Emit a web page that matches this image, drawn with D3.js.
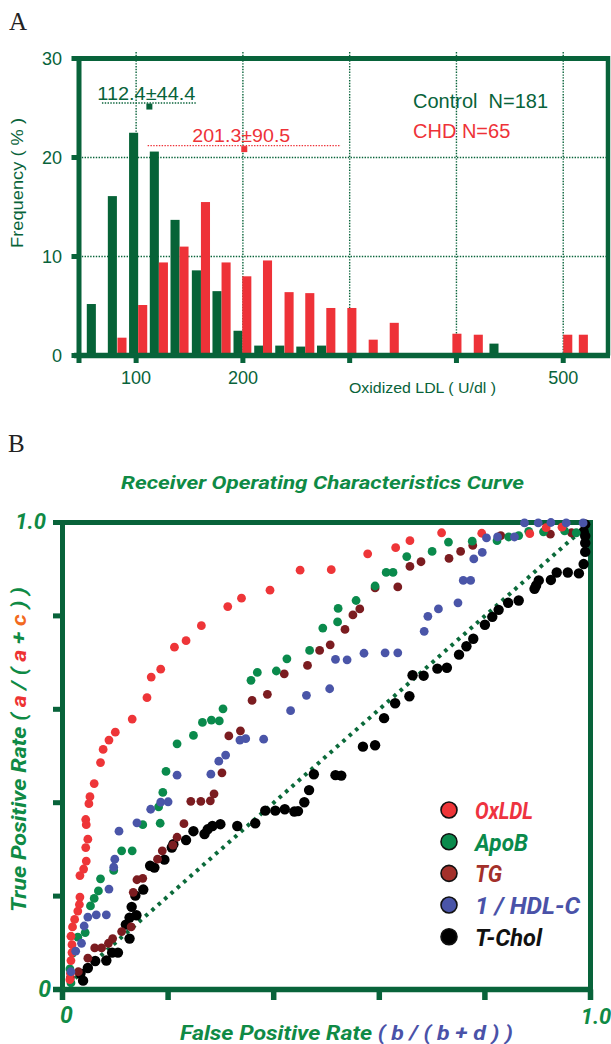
<!DOCTYPE html>
<html><head><meta charset="utf-8">
<script src="https://cdn.jsdelivr.net/npm/d3@7"></script>
<style>body{margin:0;background:#fff}svg{display:block}</style>
</head><body><svg id="c" width="611" height="1044"></svg>
<script>
// ---------- Panel A data (Oxidized LDL histogram) ----------
const ctrlBinStart = [53.8, 73.5, 93.4, 112.8, 132.2, 152.2, 171.5, 191.2, 210.6, 230.3, 250.0, 269.4, 430.9];
const ctrlFreq     = [5.2, 16.1, 22.5, 20.6, 13.7, 8.6, 6.5, 2.5, 1.0, 1.0, 0.9, 1.0, 1.2];
const chdBinStart  = [82.5, 101.9, 121.3, 140.6, 160.7, 180.0, 199.4, 218.8, 239.0, 258.4, 278.1, 297.8, 317.8, 337.5, 396.2, 416.2, 500.0, 514.6];
const chdFreq      = [1.8, 5.1, 9.4, 11.0, 15.5, 9.4, 8.0, 9.6, 6.4, 6.3, 4.8, 4.8, 1.6, 3.3, 2.2, 2.1, 2.1, 2.1];
const yTicksA = [0, 10, 20, 30];
const yGridA = [10, 20];
const xGridA = [100, 200, 300, 400, 500];
const xLabelsA = [100, 200, 500];
const ctrlStat = {mean: 112.4, sd: 44.4, label: "112.4±44.4", level: 25.5};
const chdStat  = {mean: 201.3, sd: 90.5, label: "201.3±90.5", level: 21.2};
const legendA = ["Control  N=181", "CHD N=65"];

// ---------- Panel B data (ROC curves: [FPR, TPR]) ----------
const oxldl = [[0.014,0.021],[0.015,0.034],[0.016,0.062],[0.018,0.079],[0.018,0.096],[0.016,0.114],[0.019,0.134],[0.023,0.150],[0.029,0.168],[0.032,0.182],[0.033,0.198],[0.033,0.244],[0.040,0.258],[0.045,0.275],[0.044,0.304],[0.048,0.322],[0.045,0.353],[0.044,0.364],[0.050,0.398],[0.052,0.413],[0.060,0.441],[0.072,0.486],[0.077,0.514],[0.088,0.534],[0.100,0.551],[0.132,0.579],[0.160,0.625],[0.168,0.669],[0.186,0.686],[0.212,0.733],[0.234,0.747],[0.263,0.779],[0.313,0.820],[0.339,0.838],[0.393,0.855],[0.450,0.898],[0.509,0.899],[0.578,0.933],[0.631,0.946],[0.658,0.961],[0.718,0.978],[0.794,0.977],[0.885,0.976],[0.916,0.989],[0.946,0.990]];
const apob = [[0.016,0.014],[0.014,0.044],[0.019,0.078],[0.029,0.112],[0.043,0.122],[0.053,0.179],[0.060,0.195],[0.068,0.211],[0.072,0.237],[0.097,0.255],[0.112,0.297],[0.132,0.297],[0.152,0.353],[0.185,0.356],[0.182,0.391],[0.190,0.422],[0.196,0.467],[0.217,0.526],[0.248,0.544],[0.265,0.572],[0.282,0.577],[0.297,0.575],[0.304,0.601],[0.357,0.662],[0.369,0.679],[0.405,0.682],[0.425,0.708],[0.468,0.726],[0.493,0.774],[0.521,0.787],[0.522,0.816],[0.556,0.833],[0.592,0.864],[0.613,0.893],[0.626,0.893],[0.652,0.927],[0.700,0.938],[0.731,0.958],[0.776,0.960],[0.823,0.961],[0.845,0.969],[0.864,0.972],[0.883,0.981],[0.911,0.980],[0.951,0.982],[0.973,0.978]];
const tg = [[0.015,0.025],[0.030,0.038],[0.048,0.067],[0.061,0.089],[0.074,0.089],[0.087,0.099],[0.095,0.109],[0.112,0.124],[0.130,0.134],[0.134,0.208],[0.141,0.235],[0.152,0.238],[0.180,0.279],[0.189,0.297],[0.209,0.309],[0.217,0.326],[0.230,0.355],[0.243,0.403],[0.262,0.403],[0.280,0.404],[0.287,0.419],[0.302,0.464],[0.315,0.543],[0.337,0.554],[0.359,0.619],[0.388,0.632],[0.420,0.676],[0.464,0.694],[0.487,0.726],[0.507,0.738],[0.535,0.771],[0.550,0.802],[0.563,0.815],[0.592,0.860],[0.635,0.862],[0.658,0.906],[0.679,0.916],[0.732,0.923],[0.754,0.938],[0.777,0.951],[0.830,0.972],[0.924,0.975],[0.964,0.978]];
const hdl = [[0.016,0.038],[0.025,0.082],[0.036,0.099],[0.041,0.136],[0.048,0.155],[0.064,0.160],[0.083,0.160],[0.088,0.215],[0.097,0.262],[0.099,0.279],[0.107,0.339],[0.141,0.357],[0.167,0.386],[0.186,0.401],[0.200,0.402],[0.217,0.459],[0.281,0.461],[0.296,0.489],[0.309,0.502],[0.336,0.534],[0.347,0.537],[0.381,0.536],[0.432,0.597],[0.462,0.630],[0.506,0.644],[0.517,0.707],[0.539,0.706],[0.571,0.720],[0.611,0.721],[0.635,0.721],[0.685,0.767],[0.692,0.799],[0.712,0.815],[0.749,0.828],[0.759,0.876],[0.773,0.876],[0.779,0.922],[0.795,0.936],[0.803,0.967],[0.824,0.969],[0.856,0.969],[0.875,0.999],[0.901,0.999],[0.925,1.0],[0.954,0.999],[0.986,0.999]];
const tchol = [[0.039,0.019],[0.034,0.034],[0.048,0.046],[0.062,0.061],[0.083,0.062],[0.094,0.079],[0.105,0.079],[0.127,0.109],[0.120,0.139],[0.127,0.154],[0.140,0.159],[0.131,0.177],[0.138,0.201],[0.153,0.214],[0.166,0.265],[0.174,0.261],[0.193,0.278],[0.207,0.304],[0.210,0.311],[0.234,0.320],[0.248,0.339],[0.269,0.333],[0.275,0.343],[0.284,0.350],[0.299,0.354],[0.331,0.350],[0.365,0.356],[0.384,0.383],[0.403,0.383],[0.421,0.386],[0.439,0.381],[0.446,0.382],[0.458,0.401],[0.467,0.427],[0.476,0.461],[0.517,0.459],[0.528,0.458],[0.569,0.520],[0.592,0.523],[0.609,0.581],[0.630,0.613],[0.657,0.628],[0.663,0.673],[0.684,0.672],[0.710,0.687],[0.728,0.689],[0.751,0.717],[0.765,0.735],[0.778,0.751],[0.800,0.781],[0.814,0.798],[0.826,0.813],[0.844,0.828],[0.864,0.833],[0.894,0.858],[0.897,0.865],[0.902,0.876],[0.925,0.877],[0.936,0.893],[0.957,0.893],[0.978,0.891],[0.987,0.911],[0.990,0.937],[0.990,0.956],[0.990,0.971],[0.987,0.981],[0.990,0.996]];
const rocTicks = [0, 0.2, 0.4, 0.6, 0.8, 1.0];
const seriesNames = ["OxLDL", "ApoB", "TG", "1 / HDL-C", "T-Chol"];

// ---------- styles ----------
const DG = "#08633a", RED = "#ee3238";
const ROCG = "#0f8a45", BLUE = "#4a52a8";
const svg = d3.select("#c");
svg.append("rect").attr("width", 611).attr("height", 1044).attr("fill", "#fff");
const sans = "'Liberation Sans', Arial, sans-serif";
const pop = "Roboto, 'DejaVu Sans', sans-serif";

// ================= PANEL A =================
svg.append("text").attr("x", 9).attr("y", 30).text("A")
  .attr("font-family", "'Liberation Serif', 'Times New Roman', serif").attr("font-size", 25).attr("fill", "#222");

const xA = d3.scaleLinear().domain([46.5, 541]).range([79, 607]);
const yA = d3.scaleLinear().domain([0, 30]).range([355.5, 58.5]);
const gA = svg.append("g");

// gridlines
gA.selectAll(".hg").data(yGridA).join("line")
  .attr("x1", xA(46.5)).attr("x2", xA(541)).attr("y1", d => yA(d)).attr("y2", d => yA(d))
  .attr("stroke", DG).attr("stroke-width", 1.4).attr("stroke-dasharray", "1.4,1.4");
gA.selectAll(".vg").data(xGridA).join("line")
  .attr("x1", d => xA(d)).attr("x2", d => xA(d)).attr("y1", 52).attr("y2", yA(0))
  .attr("stroke", DG).attr("stroke-width", 1.4).attr("stroke-dasharray", "1.4,1.4");

// bars
const binW = 8.5;
gA.selectAll(".cb").data(ctrlBinStart.map((s, i) => ({s, v: ctrlFreq[i]}))).join("rect")
  .attr("x", d => xA(d.s)).attr("width", d => xA(d.s + binW) - xA(d.s))
  .attr("y", d => yA(d.v)).attr("height", d => yA(0) - yA(d.v)).attr("fill", "#066337");
gA.selectAll(".rb").data(chdBinStart.map((s, i) => ({s, v: chdFreq[i]}))).join("rect")
  .attr("x", d => xA(d.s)).attr("width", d => xA(d.s + binW) - xA(d.s))
  .attr("y", d => yA(d.v)).attr("height", d => yA(0) - yA(d.v)).attr("fill", RED);

// frame / axes
gA.append("line").attr("x1", 76.5).attr("x2", 610).attr("y1", yA(30)).attr("y2", yA(30)).attr("stroke", DG).attr("stroke-width", 5);
gA.append("line").attr("x1", 608).attr("x2", 608).attr("y1", yA(30) - 2.5).attr("y2", yA(0)).attr("stroke", DG).attr("stroke-width", 4.5);
gA.append("line").attr("x1", 79).attr("x2", 79).attr("y1", yA(30) - 2.5).attr("y2", 363).attr("stroke", DG).attr("stroke-width", 5);
gA.append("line").attr("x1", 74).attr("x2", 610).attr("y1", yA(0)).attr("y2", yA(0)).attr("stroke", DG).attr("stroke-width", 5.5);
gA.selectAll(".yt").data(yTicksA).join("rect")
  .attr("x", 71.5).attr("y", d => yA(d) - 2.5).attr("width", 8).attr("height", 5).attr("fill", DG);
gA.selectAll(".xt").data(xGridA).join("rect")
  .attr("x", d => xA(d) - 2.5).attr("y", yA(0)).attr("width", 5).attr("height", 7.5).attr("fill", DG);

// tick labels
gA.selectAll(".ytl").data(yTicksA).join("text")
  .attr("x", 62).attr("y", d => yA(d) + 6.5).attr("text-anchor", "end").text(d => d)
  .attr("font-family", sans).attr("font-size", 18).attr("fill", DG);
gA.selectAll(".xtl").data(xLabelsA).join("text")
  .attr("x", d => xA(d)).attr("y", 384).attr("text-anchor", "middle").text(d => d)
  .attr("font-family", sans).attr("font-size", 18).attr("fill", DG);
gA.append("text").attr("x", 349).attr("y", 392.5).text("Oxidized LDL ( U/dl )")
  .attr("font-family", sans).attr("font-size", 14.5).attr("fill", DG)
  .attr("textLength", 147).attr("lengthAdjust", "spacingAndGlyphs");
gA.append("text").attr("transform", "translate(23,183) rotate(-90)").attr("text-anchor", "middle")
  .text("Frequency ( % )").attr("font-family", sans).attr("font-size", 17).attr("fill", DG)
  .attr("textLength", 130).attr("lengthAdjust", "spacingAndGlyphs");

// mean ± SD annotations
[[ctrlStat, DG], [chdStat, RED]].forEach(([st, col]) => {
  const y = yA(st.level);
  gA.append("line").attr("x1", xA(st.mean - st.sd)).attr("x2", xA(st.mean + st.sd))
    .attr("y1", y).attr("y2", y).attr("stroke", col).attr("stroke-width", 1.4).attr("stroke-dasharray", "1.4,1.4");
  gA.append("rect").attr("x", xA(st.mean) - 3).attr("y", y + 0.5).attr("width", 6).attr("height", 6).attr("fill", col);
  gA.append("text").attr("x", xA(st.mean) - 3).attr("y", y - 3.5).attr("text-anchor", "middle").text(st.label)
    .attr("font-family", sans).attr("font-size", 18).attr("fill", col)
    .attr("textLength", 98).attr("lengthAdjust", "spacingAndGlyphs");
});

// legend text
gA.append("text").attr("x", 413).attr("y", 108).text(legendA[0]).style("white-space", "pre")
  .attr("font-family", sans).attr("font-size", 20).attr("fill", DG);
gA.append("text").attr("x", 413).attr("y", 138).text(legendA[1])
  .attr("font-family", sans).attr("font-size", 20).attr("fill", RED);

// ================= PANEL B =================
svg.append("text").attr("x", 8).attr("y", 452).text("B")
  .attr("font-family", "'Liberation Serif', 'Times New Roman', serif").attr("font-size", 25).attr("fill", "#222");

const xB = d3.scaleLinear().domain([0, 1]).range([62.5, 590.5]);
const yB = d3.scaleLinear().domain([0, 1]).range([989.5, 522.5]);
const gB = svg.append("g");

gB.append("text").attr("x", 322.5).attr("y", 489).attr("text-anchor", "middle")
  .text("Receiver Operating Characteristics Curve")
  .attr("font-family", pop).attr("font-weight", "bold").attr("font-style", "italic")
  .attr("font-size", 19).attr("fill", ROCG)
  .attr("textLength", 403).attr("lengthAdjust", "spacingAndGlyphs");

// frame
gB.append("line").attr("x1", xB(0)).attr("x2", xB(0)).attr("y1", yB(1) - 2.5).attr("y2", 1000).attr("stroke", DG).attr("stroke-width", 5);
gB.append("line").attr("x1", 53).attr("x2", xB(1) + 2.5).attr("y1", yB(0)).attr("y2", yB(0)).attr("stroke", DG).attr("stroke-width", 5.5);
gB.append("line").attr("x1", xB(0) - 2.5).attr("x2", xB(1) + 2.5).attr("y1", yB(1)).attr("y2", yB(1)).attr("stroke", DG).attr("stroke-width", 5);
gB.append("line").attr("x1", xB(1)).attr("x2", xB(1)).attr("y1", yB(1) - 2.5).attr("y2", yB(0)).attr("stroke", DG).attr("stroke-width", 5);
gB.selectAll(".yt").data(rocTicks).join("rect")
  .attr("x", 53).attr("y", d => yB(d) - 2.5).attr("width", 8).attr("height", 5).attr("fill", DG);
gB.selectAll(".xt").data(rocTicks).join("rect")
  .attr("x", d => xB(d) - 2.75).attr("y", yB(0)).attr("width", 5.5).attr("height", 10.5).attr("fill", DG);

// tick labels (only ends)
const popTxt = (sel) => sel.attr("font-family", pop).attr("font-weight", "bold").attr("font-style", "italic");
popTxt(gB.append("text").attr("x", 46).attr("y", 529).attr("text-anchor", "end").text("1.0").attr("font-size", 22).attr("fill", ROCG));
popTxt(gB.append("text").attr("x", 51).attr("y", 997).attr("text-anchor", "end").text("0").attr("font-size", 23).attr("fill", ROCG));
popTxt(gB.append("text").attr("x", 66.5).attr("y", 1023).attr("text-anchor", "middle").text("0").attr("font-size", 23).attr("fill", ROCG));
popTxt(gB.append("text").attr("x", 596).attr("y", 1024).attr("text-anchor", "middle").text("1.0").attr("font-size", 22).attr("fill", ROCG));

// axis titles
const yl = popTxt(gB.append("text").attr("transform", "translate(26,749.5) rotate(-90)").attr("text-anchor", "middle")
  .attr("font-size", 21).attr("textLength", 325).attr("lengthAdjust", "spacingAndGlyphs").style("white-space", "pre"));
[["True Positive Rate ( ", ROCG], ["a", "#ee3333"], [" / ( ", ROCG], ["a", "#ee3333"], [" + ", ROCG], ["c", "#f26a21"], [" ) )", ROCG]]
  .forEach(([t, c]) => yl.append("tspan").text(t).attr("fill", c));
const xl = popTxt(gB.append("text").attr("x", 346.5).attr("y", 1040).attr("text-anchor", "middle")
  .attr("font-size", 21).attr("textLength", 333).attr("lengthAdjust", "spacingAndGlyphs").style("white-space", "pre"));
[["False Positive Rate ", ROCG], ["( b / ( b + d ) )", BLUE]].forEach(([t, c]) => xl.append("tspan").text(t).attr("fill", c));

// diagonal
gB.append("line").attr("x1", xB(0)).attr("y1", yB(0)).attr("x2", xB(1)).attr("y2", yB(1))
  .attr("stroke", "#0b6a3a").attr("stroke-width", 4).attr("stroke-dasharray", "3.5,5");

// points
const series = [
  {data: tchol, color: "#000", r: 5.2},
  {data: tg, color: "#7b1c20", r: 4.4},
  {data: apob, color: "#0a8a4c", r: 4.4},
  {data: oxldl, color: "#ee3538", r: 4.4},
  {data: hdl, color: "#4a55a8", r: 4.4}
];
series.forEach(s => {
  gB.append("g").selectAll("circle").data(s.data).join("circle")
    .attr("cx", d => xB(d[0])).attr("cy", d => yB(d[1])).attr("r", s.r).attr("fill", s.color);
});

// legend
const legFill = ["#ee3538", "#0a8a4c", "#a3302a", "#4a55a8", "#000"];
const legText = ["#ee3340", "#0a8a4c", "#a3302a", "#4a52a8", "#111"];
const legW = [58, 53, 27, 105, 67];
const legY = d3.scaleLinear().domain([0, 4]).range([810, 936.7]);
seriesNames.forEach((n, i) => {
  gB.append("circle").attr("cx", 449).attr("cy", legY(i)).attr("r", 8)
    .attr("fill", legFill[i]).attr("stroke", "#111").attr("stroke-width", 1.6);
  popTxt(gB.append("text").attr("x", 475).attr("y", legY(i) + 9).text(n).style("white-space", "pre")
    .attr("font-size", 24).attr("fill", legText[i])
    .attr("textLength", legW[i]).attr("lengthAdjust", "spacingAndGlyphs"));
});
</script></body></html>
